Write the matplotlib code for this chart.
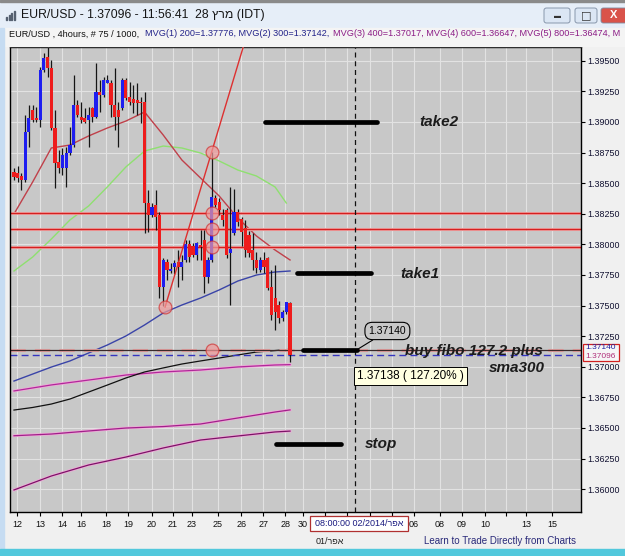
import matplotlib
matplotlib.use("Agg")
import matplotlib.pyplot as plt
import numpy as np
from matplotlib.patches import Rectangle, FancyBboxPatch

plt.rcParams["font.family"] = ["Liberation Sans", "DejaVu Sans"]

W, H = 625, 556
DPI = 100

# 4 hour EUR/USD candles, 12 - 28 March (75 bars)
opens = [1.38593, 1.38580, 1.38558, 1.38525, 1.38920, 1.39097, 1.39029, 1.39015, 1.39424, 1.39533,
         1.39438, 1.38947, 1.38675, 1.38621, 1.38621, 1.38743, 1.38811, 1.39138, 1.39043, 1.39029,
         1.39015, 1.39111, 1.39043, 1.39247, 1.39220, 1.39320, 1.39320, 1.39138, 1.39097, 1.39111,
         1.39342, 1.39206, 1.39185, 1.39179, 1.39165, 1.39165, 1.38335, 1.38239, 1.38321, 1.38240,
         1.37654, 1.37858, 1.37785, 1.37817, 1.37858, 1.37817, 1.37872, 1.38000, 1.37990, 1.37913,
         1.37994, 1.38035, 1.37736, 1.37872, 1.38376, 1.38349, 1.38240, 1.38281, 1.37930, 1.38090,
         1.38267, 1.38205, 1.38130, 1.38076, 1.37953, 1.37872, 1.37790, 1.37872, 1.37886, 1.37650,
         1.37560, 1.37503, 1.37400, 1.37445, 1.37519]
highs = [1.38621, 1.38640, 1.38580, 1.39056, 1.39138, 1.39138, 1.39124, 1.39451, 1.39560, 1.39642,
         1.39506, 1.39097, 1.38770, 1.38784, 1.38798, 1.38961, 1.39383, 1.39179, 1.39165, 1.39111,
         1.39124, 1.39124, 1.39478, 1.39342, 1.39369, 1.39383, 1.39342, 1.39438, 1.39165, 1.39356,
         1.39356, 1.39329, 1.39301, 1.39315, 1.39206, 1.39247, 1.38444, 1.38335, 1.38444, 1.38267,
         1.37886, 1.37880, 1.37845, 1.37872, 1.37954, 1.37913, 1.38035, 1.38035, 1.38008, 1.38022,
         1.38117, 1.38117, 1.37899, 1.38755, 1.38403, 1.38376, 1.38290, 1.38300, 1.38471, 1.38449,
         1.38290, 1.38225, 1.38198, 1.38110, 1.38089, 1.37940, 1.37900, 1.37940, 1.37900, 1.37790,
         1.37830, 1.37540, 1.37460, 1.37530, 1.37527]
lows = [1.38525, 1.38512, 1.38444, 1.38512, 1.38798, 1.39002, 1.39002, 1.38961, 1.39410, 1.39369,
        1.38934, 1.38457, 1.38580, 1.38566, 1.38471, 1.38730, 1.38798, 1.39043, 1.38988, 1.38988,
        1.38798, 1.39002, 1.39029, 1.39084, 1.39206, 1.39315, 1.39043, 1.38934, 1.38798, 1.39097,
        1.39179, 1.39138, 1.39070, 1.39056, 1.38988, 1.38090, 1.38103, 1.38226, 1.38117, 1.37559,
        1.37500, 1.37709, 1.37764, 1.37760, 1.37654, 1.37709, 1.37858, 1.37858, 1.37899, 1.37872,
        1.37872, 1.37600, 1.37681, 1.37858, 1.38308, 1.38240, 1.38150, 1.37890, 1.37504, 1.38076,
        1.38150, 1.37990, 1.37899, 1.37900, 1.37790, 1.37763, 1.37770, 1.37763, 1.37626, 1.37380,
        1.37299, 1.37360, 1.37370, 1.37430, 1.37040]
closes = [1.38553, 1.38539, 1.38525, 1.38920, 1.39029, 1.39015, 1.39015, 1.39424, 1.39519, 1.39438,
          1.38947, 1.38661, 1.38621, 1.38730, 1.38743, 1.38811, 1.39138, 1.39056, 1.39015, 1.39002,
          1.39056, 1.39043, 1.39247, 1.39220, 1.39342, 1.39342, 1.39138, 1.39043, 1.39043, 1.39342,
          1.39192, 1.39165, 1.39152, 1.39152, 1.39152, 1.38335, 1.38239, 1.38307, 1.38226, 1.37654,
          1.37872, 1.37790, 1.37800, 1.37845, 1.37817, 1.37858, 1.38000, 1.37900, 1.37913, 1.38008,
          1.37981, 1.37736, 1.37872, 1.38389, 1.38321, 1.38281, 1.38200, 1.37913, 1.37960, 1.38267,
          1.38185, 1.38100, 1.37953, 1.37926, 1.37872, 1.37803, 1.37872, 1.37817, 1.37641, 1.37421,
          1.37445, 1.37397, 1.37445, 1.37527, 1.37096]

# moving averages, read at every 5th bar
ma_idx = [0, 5, 10, 15, 20, 25, 30, 35, 40, 45, 50, 55, 60, 65, 70, 74]
ma_red = [1.38248, 1.38509, 1.38787, 1.38811, 1.38885, 1.38950, 1.39007, 1.39081,
          1.38893, 1.38689, 1.38542, 1.38395, 1.38215, 1.38068, 1.37953, 1.37872]
ma_blue = [1.36883, 1.36940, 1.36997, 1.37047, 1.37112, 1.37177, 1.37251, 1.37341,
           1.37439, 1.37504, 1.37561, 1.37627, 1.37700, 1.37749, 1.37774, 1.37782]
ma_black = [1.36646, 1.36667, 1.36695, 1.36736, 1.36793, 1.36850, 1.36908, 1.36957,
            1.36990, 1.37022, 1.37047, 1.37071, 1.37096, 1.37120, 1.37132, 1.37142]
green_idx = [0, 5, 10, 15, 20, 25, 30, 35, 40, 45, 50, 55, 60, 65, 70, 73]
ma_green = [1.37782, 1.37896, 1.38043, 1.38199, 1.38313, 1.38468, 1.38632, 1.38762,
            1.38803, 1.38787, 1.38746, 1.38681, 1.38607, 1.38558, 1.38468, 1.38337]
long_idx = [0, 10, 20, 30, 40, 50, 60, 70, 74]
ma_400 = [1.36802, 1.36851, 1.36891, 1.36932, 1.36957, 1.36973, 1.36998, 1.37014, 1.37017]
ma_600 = [1.36436, 1.36450, 1.36475, 1.36499, 1.36511, 1.36532, 1.36581, 1.36630, 1.36647]
ma_800 = [1.35993, 1.36107, 1.36197, 1.36262, 1.36336, 1.36401, 1.36434, 1.36467, 1.36474]

# fibonacci drawing
fib_low = (40.5, 1.37487)
fib_high = (53.0, 1.38755)
fib_levels = [1.38253, 1.38125, 1.37980]
buy_level = 1.37140
last_price = 1.37096
cursor_bar = 91.4

# trade plan segments
seg_start = [67.3, 75.9, 77.5, 70.2]
seg_end = [97.3, 95.7, 92.0, 87.7]
seg_level = [1.39000, 1.37766, 1.37140, 1.36369]

# x axis day labels (bar positions)
day_pos = [0.8, 7.0, 12.9, 18.0, 24.7, 30.6, 37.0, 42.6, 47.7, 54.7, 60.9, 66.8, 72.7, 77.5,
           83.4, 89.3, 95.4, 101.3, 107.2, 114.2, 120.1, 126.3, 131.9, 137.3, 144.2]
day_labels = ["12", "13", "14", "16", "18", "19", "20", "21", "23", "25", "26", "27", "28", "30",
              "", "", "", "", "06", "08", "09", "10", "", "13", "15"]
price_ticks = np.arange(1.36, 1.39501, 0.0025)

heb_apr = "אפר"[::-1]  # matplotlib has no bidi, so reverse for visual order
heb_mar = "מרץ"[::-1]


def fig_rect(fig, x0, y0, x1, y1, **kw):
    fig.patches.append(Rectangle((x0 / W, 1 - y1 / H), (x1 - x0) / W, (y1 - y0) / H,
                                 transform=fig.transFigure, **kw))


fig = plt.figure(figsize=(W / DPI, H / DPI), dpi=DPI, facecolor="#f0f0f0")

# window chrome
fig_rect(fig, 0, 0, W, 28, color="#e6eef8", zorder=0)
fig_rect(fig, 0, 0, W, 1.5, color="#8a8a8a", zorder=0)
fig_rect(fig, 0, 28, W, 46, color="#f4f4f4", zorder=0)
fig_rect(fig, 0, 28, 4, 550, color="#c6dcf2", zorder=0)
fig_rect(fig, 0, 549, W, H, color="#52c8dc", zorder=0)
for x0, x1, fc in [(544, 570, "#dbe6f4"), (575, 597, "#dbe6f4"), (601, 627, "#d9534a")]:
    fig.patches.append(FancyBboxPatch((x0 / W, 1 - 23 / H), (x1 - x0) / W, 15 / H,
                                      boxstyle="round,pad=0,rounding_size=0.004",
                                      transform=fig.transFigure, fc=fc, ec="#7a8aa0", lw=0.6))
fig.text(557 / W, 1 - 17 / H, "▬", fontsize=5, color="#333333", ha="center", va="center")
fig.text(586 / W, 1 - 15.5 / H, "□", fontsize=8, color="#333333", ha="center", va="center",
         family=["DejaVu Sans"])
fig.text(614 / W, 1 - 15.5 / H, "X", fontsize=8, color="white", weight="bold", ha="center", va="center")
for k, hh in enumerate([3, 5, 7, 9]):
    fig_rect(fig, 6 + 2.5 * k, 20 - hh, 7.3 + 2.5 * k, 20, color="#556070", zorder=1)
fig.text(21 / W, 1 - 15 / H, "EUR/USD - 1.37096 - 11:56:41  28 " + heb_mar + " (IDT)",
         fontsize=8.8, color="#151515", va="center")

fig.text(9 / W, 1 - 34 / H, "EUR/USD , 4hours, # 75 / 1000, ", fontsize=6.6, color="#111111", va="center")
fig.text(145 / W, 1 - 34 / H, "MVG(1) 200=1.37776, MVG(2) 300=1.37142, ", fontsize=6.6,
         color="#23238a", va="center")
fig.text(333 / W, 1 - 34 / H, "MVG(3) 400=1.37017, MVG(4) 600=1.36647, MVG(5) 800=1.36474, M",
         fontsize=6.6, color="#8c1c86", va="center")

ax = fig.add_axes([10 / W, (H - 512) / H, 571 / W, 465 / H])
ax.set_facecolor("#c8c8c8")
ax.set_xlim(-1.07, 152.0)
ax.set_ylim(1.35813, 1.39612)

ax.set_xticks(day_pos)
ax.set_xticklabels(day_labels)
ax.set_yticks(price_ticks)
ax.set_yticklabels([f"{p:.5f}" for p in price_ticks])
ax.yaxis.tick_right()
ax.tick_params(axis="y", length=3, width=0.8, pad=1.5, labelsize=6.4, labelcolor="#101030")
ax.tick_params(axis="x", length=3, width=0.8, pad=3, labelsize=6.5, labelcolor="#111111")
ax.grid(True, color="#e2e2e2", lw=0.8, zorder=0)
ax.set_axisbelow(True)
for s in ax.spines.values():
    s.set_linewidth(1.0)
    s.set_color("black")

# moving averages
ax.plot(long_idx, ma_800, color="#f0a8d8", lw=2.0, zorder=1)
ax.plot(long_idx, ma_800, color="#7a1466", lw=0.9, zorder=2)
ax.plot(long_idx, ma_600, color="#f0a8d8", lw=2.0, zorder=1)
ax.plot(long_idx, ma_600, color="#a0208a", lw=0.9, zorder=2)
ax.plot(long_idx, ma_400, color="#f0a8d8", lw=2.0, zorder=1)
ax.plot(long_idx, ma_400, color="#b0289a", lw=0.9, zorder=2)
ax.plot(ma_idx, ma_black, color="#111111", lw=0.9, zorder=2)
ax.plot(ma_idx, ma_blue, color="#3a44a8", lw=1.0, zorder=2)
ax.plot(green_idx, ma_green, color="#8fe070", lw=1.0, zorder=2)
ax.plot(ma_idx, ma_red, color="#c0404a", lw=1.0, zorder=2)

# fibonacci levels
for lev in fib_levels:
    ax.axhline(lev, color="#f0a8a8", lw=2.2, zorder=2)
    ax.axhline(lev, color="#d42020", lw=1.0, zorder=2)
ax.axhline(buy_level, color="#e8a0a0", lw=2.2, ls=(0, (5, 3)), zorder=2)
ax.axhline(buy_level, color="#3a2a2a", lw=0.9, zorder=2)
ax.axhline(last_price, color="#3535c0", lw=1.0, ls=(0, (5, 3)), zorder=2)
ax.axvline(cursor_bar, color="#111111", lw=0.9, ls=(0, (4, 3)), zorder=2)

slope = (fib_high[1] - fib_low[1]) / (fib_high[0] - fib_low[0])
ax.plot([fib_low[0], fib_low[0] + 30], [fib_low[1], fib_low[1] + 30 * slope],
        color="#dd3030", lw=1.0, zorder=5)

# candles
idx = np.arange(len(opens))
o, h, l, c = map(np.array, (opens, highs, lows, closes))
up = c >= o
ax.vlines(idx, l, h, color="#151515", lw=0.9, zorder=3)
body_lo = np.minimum(o, c)
body_h = np.maximum(np.abs(c - o), 0.00004)
ax.bar(idx, body_h, bottom=body_lo, width=0.85, color=np.where(up, "#1e1ef0", "#ee1c1c"),
       lw=0, zorder=4)

# circles on fibo points
cx = [fib_high[0]] * 5 + [fib_low[0]]
cy = [fib_high[1]] + fib_levels + [buy_level, fib_low[1]]
ax.scatter(cx, cy, s=85, facecolor="#f09a9a", edgecolor="#d03030", alpha=0.7, lw=0.9, zorder=6)

# trade plan
for x0, x1, lev in zip(seg_start, seg_end, seg_level):
    ax.plot([x0, x1], [lev, lev], color="black", lw=3.4, solid_capstyle="round", zorder=7)

lab = dict(fontsize=11, weight="bold", style="italic", color="#1c1c1c", va="center", zorder=8)
ax.text(108.8, 1.3900, "take2", **lab)
ax.text(103.5, 1.3776, "take1", **lab)
ax.text(94.1, 1.3637, "stop", **lab)
ax.text(104.8, 1.37127, "buy fibo 127.2 plus", **lab)
ax.text(127.3, 1.36989, "sma300", **lab)

ax.annotate("1.37140", xy=(seg_end[2], buy_level), xytext=(100.1, 1.37292), fontsize=7.5,
            ha="center", va="center", zorder=8,
            bbox=dict(boxstyle="round,pad=0.35,rounding_size=0.7", fc="#c8c8c8", ec="black", lw=0.8),
            arrowprops=dict(arrowstyle="-", color="black", lw=0.8, shrinkA=0, shrinkB=0))
ax.text(91.9, 1.36924, "1.37138 ( 127.20% )", fontsize=8.5, ha="left", va="center", zorder=8,
        bbox=dict(boxstyle="square,pad=0.25", fc="#ffffe1", ec="black", lw=0.7))

# price boxes on the right axis
yt = ax.get_yaxis_transform()
ax.add_patch(Rectangle((1.004, 1.37046), 0.062, 0.00139, transform=yt, fc="#f6f6f6", ec="#d02020",
                       lw=0.9, clip_on=False, zorder=9))
ax.text(1.007, 1.37083, "1.37096", transform=yt, fontsize=6.0, color="#b0307a",
        va="center", clip_on=False, zorder=10)
ax.text(1.007, 1.37155, "1.37140", transform=yt, fontsize=6.0, color="#2020a0",
        va="center", clip_on=False, zorder=10)

# cursor date box and footer
fig.patches.append(Rectangle((310 / W, 1 - 531 / H), 98 / W, 15 / H, transform=fig.transFigure,
                             fc="white", ec="#b03030", lw=0.9, zorder=5))
fig.text(359 / W, 1 - 523.5 / H, "08:00:00 02/2014/" + heb_apr, fontsize=6.5, color="#1a1a80",
         ha="center", va="center", zorder=6)
fig.text(330 / W, 1 - 541 / H, "01/" + heb_apr, fontsize=6.5, color="#222222", ha="center", va="center")
fig.text(500 / W, 1 - 541 / H, "Learn to Trade Directly from Charts", fontsize=7, color="#2a2a7a",
         ha="center", va="center")

fig.savefig("out.png", dpi=DPI, facecolor=fig.get_facecolor())
